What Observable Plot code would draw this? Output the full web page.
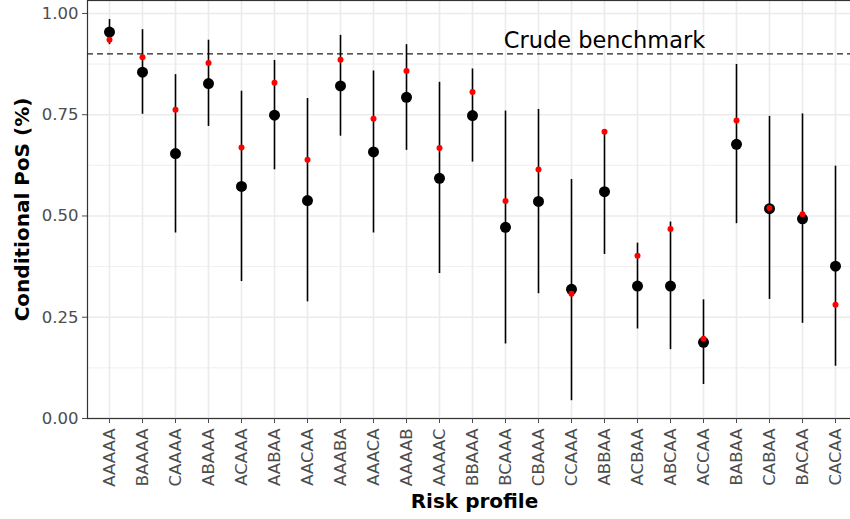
<!DOCTYPE html>
<html>
<head>
<meta charset="utf-8">
<script src="https://cdn.jsdelivr.net/npm/d3@7"></script>
<script src="https://cdn.jsdelivr.net/npm/@observablehq/plot@0.6"></script>
<style>
  html, body { margin: 0; padding: 0; background: #fff; overflow: hidden; }
  svg { font-family: "DejaVu Sans", sans-serif; display: block; }
</style>
</head>
<body>
<div id="chart"></div>
<script>
const profiles = ["AAAAA","BAAAA","CAAAA","ABAAA","ACAAA","AABAA","AACAA","AAABA","AAACA","AAAAB","AAAAC","BBAAA","BCAAA","CBAAA","CCAAA","ABBAA","ACBAA","ABCAA","ACCAA","BABAA","CABAA","BACAA","CACAA"];
const estimate = [0.954,0.855,0.654,0.827,0.573,0.749,0.538,0.821,0.658,0.793,0.593,0.748,0.472,0.536,0.319,0.560,0.327,0.327,0.188,0.677,0.518,0.493,0.376];
const lower    = [0.923,0.751,0.458,0.721,0.338,0.614,0.288,0.697,0.458,0.662,0.358,0.633,0.184,0.308,0.044,0.405,0.221,0.170,0.084,0.481,0.294,0.235,0.129];
const upper    = [0.985,0.960,0.849,0.934,0.808,0.884,0.790,0.946,0.858,0.923,0.830,0.863,0.759,0.763,0.590,0.712,0.433,0.485,0.293,0.874,0.746,0.752,0.623];
const crude    = [0.935,0.892,0.762,0.878,0.669,0.829,0.639,0.886,0.740,0.858,0.668,0.806,0.537,0.615,0.308,0.708,0.402,0.468,0.197,0.736,0.520,0.504,0.281];
const benchmark = 0.9;
const benchmarkLabel = "Crude benchmark";
const yTicks = [0, 0.25, 0.5, 0.75, 1];
const yMinor = [0.125, 0.375, 0.625, 0.875];

const data = profiles.map((p, i) => ({profile: p, est: estimate[i], lo: lower[i], hi: upper[i], crude: crude[i]}));

const chart = Plot.plot({
  width: 850,
  height: 519,
  marginTop: 0,
  marginBottom: 101,
  marginLeft: 87,
  marginRight: -7,
  x: {type: "point", domain: profiles, range: [106, 838], padding: 0},
  y: {domain: [0, 1.032]},
  marks: [
    Plot.gridY(yMinor, {stroke: "#EBEBEB", strokeOpacity: 1, strokeWidth: 0.8}),
    Plot.gridY(yTicks, {stroke: "#EBEBEB", strokeOpacity: 1, strokeWidth: 1.6}),
    Plot.gridX(profiles, {stroke: "#EBEBEB", strokeOpacity: 1, strokeWidth: 1.6}),
    Plot.frame({stroke: "#333", strokeWidth: 1.2}),
    Plot.ruleY([benchmark], {stroke: "#222", strokeWidth: 1.3, strokeDasharray: "6,4"}),
    Plot.text([benchmarkLabel], {x: () => "ABBAA", y: () => 0.932, fontSize: 22.5, fill: "black", textAnchor: "middle"}),
    Plot.ruleX(data, {x: "profile", y1: "lo", y2: "hi", stroke: "black", strokeWidth: 1.6}),
    Plot.dot(data, {x: "profile", y: "est", r: 5.5, fill: "black", stroke: null}),
    Plot.dot(data, {x: "profile", y: "crude", r: 3, fill: "red", stroke: null}),
    Plot.axisY({ticks: yTicks, tickFormat: d3.format(".2f"), tickSize: 5, tickPadding: 4, fontSize: 16.5, color: "#4D4D4D", label: null}),
    Plot.axisX({tickRotate: -90, tickSize: 5, tickPadding: 5, fontSize: 16.5, color: "#4D4D4D", label: null}),
    Plot.text(["Risk profile"], {frameAnchor: "bottom", lineAnchor: "middle", dy: 83, dx: 2, fontSize: 20, fontWeight: "bold", fill: "black"}),
    Plot.text(["Conditional PoS (%)"], {frameAnchor: "left", textAnchor: "middle", lineAnchor: "middle", dx: -65, rotate: -90, fontSize: 20, fontWeight: "bold", fill: "black"})
  ]
});
document.getElementById("chart").appendChild(chart);
</script>
</body>
</html>
